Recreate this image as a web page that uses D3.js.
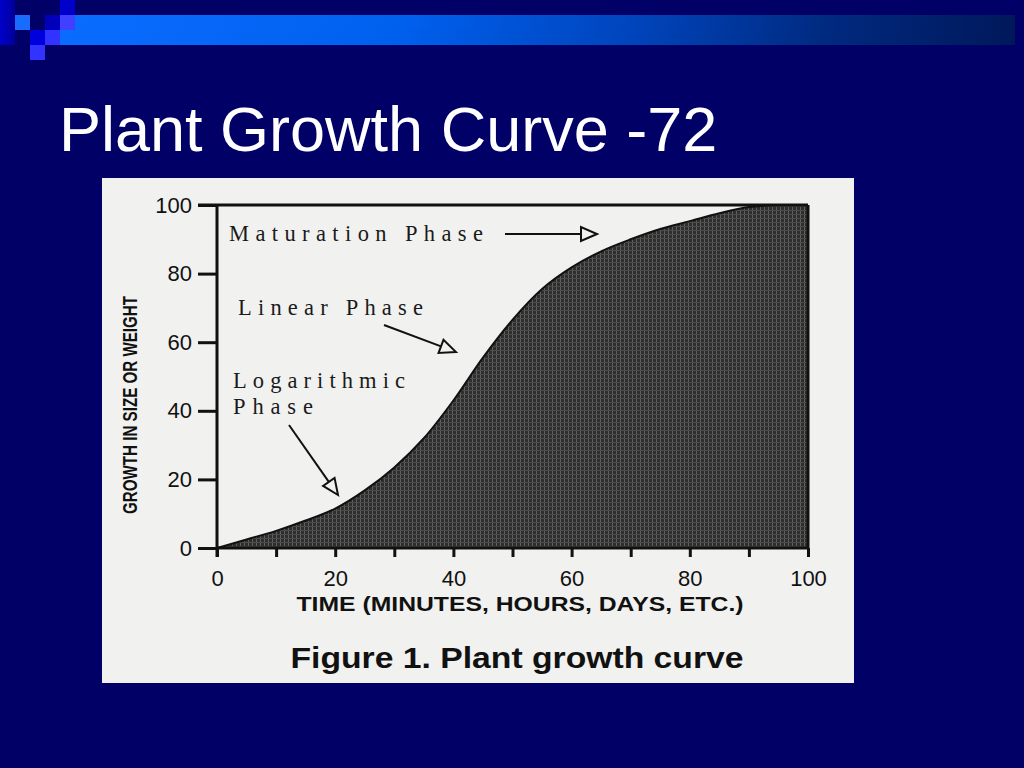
<!DOCTYPE html>
<html><head><meta charset="utf-8">
<script src="https://cdn.jsdelivr.net/npm/d3@7"></script>
<style>html,body{margin:0;padding:0;background:#000066;}svg{display:block;}</style>
</head><body>
<script>
// ---- data ----
const timeValues   = [0, 5, 10, 15, 20, 25, 30, 35, 40, 45, 50, 55, 60, 65, 70, 75, 80, 85, 90, 95, 100];
const growthValues = [0, 2.5, 5, 8, 11.5, 16.8, 23.5, 32, 43, 55.5, 66.5, 75.5, 81.8, 86.5, 90, 93, 95.3, 97.6, 99.4, 100, 100];
const xTickValues = [0, 10, 20, 30, 40, 50, 60, 70, 80, 90, 100];
const xTickLabels = ["0", "20", "40", "60", "80", "100"];
const yTickValues = [0, 20, 40, 60, 80, 100];
const yTickLabels = ["0", "20", "40", "60", "80", "100"];
const titleText = "Plant Growth Curve -72";
const xTitle = "TIME (MINUTES, HOURS, DAYS, ETC.)";
const yTitle = "GROWTH IN SIZE OR WEIGHT";
const captionText = "Figure 1. Plant growth curve";
const phaseLabels = ["Maturation Phase", "Linear Phase", "Logarithmic", "Phase"];

const W = 1024, H = 768;
const svg = d3.select("body").append("svg").attr("width", W).attr("height", H);
const defs = svg.append("defs");

// background
svg.append("rect").attr("width", W).attr("height", H).attr("fill", "#000066");

// decorative top bar
const grad = defs.append("linearGradient").attr("id", "barGrad").attr("x1", "0").attr("x2", "1");
[[0, "#0a6cff"], [0.35, "#0060ee"], [0.6, "#0044bb"], [0.8, "#002a80"], [1, "#00185a"]]
  .forEach(([o, c]) => grad.append("stop").attr("offset", o).attr("stop-color", c));
const colGrad = defs.append("linearGradient").attr("id", "colGrad").attr("x1", "0").attr("x2", "1");
colGrad.append("stop").attr("offset", 0).attr("stop-color", "#0000cc");
colGrad.append("stop").attr("offset", 1).attr("stop-color", "#00009a");
svg.append("rect").attr("x", 75).attr("y", 15).attr("width", 940).attr("height", 15).attr("fill", "url(#barGrad)");
svg.append("rect").attr("x", 60).attr("y", 30).attr("width", 955).attr("height", 15).attr("fill", "url(#barGrad)");
svg.append("rect").attr("x", 0).attr("y", 0).attr("width", 15).attr("height", 45).attr("fill", "url(#colGrad)");
const squares = [
  [15, 15, "#1a6cff"], [30, 30, "#0000dd"], [30, 45, "#3333ff"],
  [45, 15, "#0000bb"], [45, 30, "#3333ff"], [60, 0, "#0000cc"], [60, 15, "#4040ff"]
];
squares.forEach(([x, y, c]) => svg.append("rect").attr("x", x).attr("y", y).attr("width", 15).attr("height", 15).attr("fill", c));

// title
svg.append("text").attr("x", 59).attr("y", 151).attr("fill", "#ffffff")
  .attr("font-family", "Liberation Sans, Arial, sans-serif").attr("font-size", 63)
  .text(titleText);

// panel
svg.append("rect").attr("x", 102).attr("y", 178).attr("width", 752).attr("height", 505).attr("fill", "#f1f1f0");

// texture pattern
const pat = defs.append("pattern").attr("id", "tex").attr("patternUnits", "userSpaceOnUse").attr("width", 4).attr("height", 4);
pat.append("rect").attr("width", 4).attr("height", 4).attr("fill", "#2e2e2e");
pat.append("rect").attr("x", 0).attr("y", 0).attr("width", 1).attr("height", 4).attr("fill", "#606060");
pat.append("rect").attr("x", 0).attr("y", 2).attr("width", 4).attr("height", 1).attr("fill", "#4c4c4c");

// scales
const x = d3.scaleLinear().domain([0, 100]).range([217, 808]);
const y = d3.scaleLinear().domain([0, 100]).range([548, 205]);
const data = timeValues.map((t, i) => ({t, g: growthValues[i]}));

defs.append("clipPath").attr("id", "plotClip").append("rect")
  .attr("x", x(0)).attr("y", y(100)).attr("width", x(100) - x(0)).attr("height", y(0) - y(100));

// area
const curve = d3.curveCatmullRom.alpha(0.5);
const area = d3.area().x(d => x(d.t)).y0(y(0)).y1(d => y(d.g)).curve(curve);
const line = d3.line().x(d => x(d.t)).y(d => y(d.g)).curve(curve);
const gp = svg.append("g").attr("clip-path", "url(#plotClip)");
gp.append("path").datum(data).attr("d", area).attr("fill", "url(#tex)");
gp.append("path").datum(data).attr("d", line).attr("fill", "none").attr("stroke", "#111").attr("stroke-width", 2);

// frame lines
const ink = "#111";
svg.append("line").attr("x1", x(0) - 19).attr("x2", x(100)).attr("y1", y(100)).attr("y2", y(100)).attr("stroke", ink).attr("stroke-width", 3);
svg.append("line").attr("x1", x(100)).attr("x2", x(100)).attr("y1", y(100)).attr("y2", y(0)).attr("stroke", ink).attr("stroke-width", 3);

// axes
const numFont = "Liberation Sans, Arial, sans-serif";
const yAxis = d3.axisLeft(y).tickValues(yTickValues).tickSize(19).tickPadding(5)
  .tickFormat((d, i) => yTickLabels[i]);
const gy = svg.append("g").attr("transform", `translate(${x(0)},0)`).call(yAxis);
gy.select(".domain").attr("stroke", ink).attr("stroke-width", 3).attr("d", `M0,${y(100)}V${y(0) + 9}`);
gy.selectAll(".tick line").attr("stroke", ink).attr("stroke-width", 3);
gy.selectAll(".tick text").attr("fill", ink).attr("font-family", numFont).attr("font-size", 22).attr("dx", "-1");

const xAxis = d3.axisBottom(x).tickValues(xTickValues).tickSize(9).tickPadding(13)
  .tickFormat(d => (d % 20 === 0 ? xTickLabels[d / 20] : ""));
const gx = svg.append("g").attr("transform", `translate(0,${y(0)})`).call(xAxis);
gx.select(".domain").attr("stroke", ink).attr("stroke-width", 3).attr("d", `M${x(0)},0H${x(100)}`);
gx.selectAll(".tick line").attr("stroke", ink).attr("stroke-width", 3);
gx.selectAll(".tick text").attr("fill", ink).attr("font-family", numFont).attr("font-size", 22);

// axis titles
svg.append("text").attr("transform", "translate(137,405) rotate(-90)")
  .attr("text-anchor", "middle").attr("fill", ink)
  .attr("font-family", "Liberation Sans Narrow, Arial Narrow, Liberation Sans, sans-serif")
  .attr("font-weight", "bold").attr("font-size", 20)
  .attr("textLength", 218).attr("lengthAdjust", "spacingAndGlyphs").text(yTitle);
svg.append("text").attr("x", 520).attr("y", 611).attr("text-anchor", "middle").attr("fill", ink)
  .attr("font-family", "Liberation Sans Narrow, Arial Narrow, Liberation Sans, sans-serif")
  .attr("font-weight", "bold").attr("font-size", 21)
  .attr("textLength", 447).attr("lengthAdjust", "spacingAndGlyphs").text(xTitle);
svg.append("text").attr("x", 517).attr("y", 668).attr("text-anchor", "middle").attr("fill", ink)
  .attr("font-family", "Liberation Sans, Arial, sans-serif")
  .attr("font-weight", "bold").attr("font-size", 29)
  .attr("textLength", 453).attr("lengthAdjust", "spacingAndGlyphs").text(captionText);

// annotations
const serif = "Liberation Serif, DejaVu Serif, serif";
const ann = [
  [phaseLabels[0], 229, 241, 254],
  [phaseLabels[1], 238, 315, 185],
  [phaseLabels[2], 233, 388, 172],
  [phaseLabels[3], 233, 414, 80]
];
ann.forEach(([t, ax, ay, len]) => {
  svg.append("text").attr("x", ax).attr("y", ay).attr("fill", "#1a1a1a")
    .attr("font-family", serif).attr("font-size", 22.5)
    .attr("textLength", len).attr("lengthAdjust", "spacing").text(t);
});

function arrow(x1, y1, x2, y2) {
  const dx = x2 - x1, dy = y2 - y1, L = Math.hypot(dx, dy);
  const ux = dx / L, uy = dy / L, head = 16, half = 7;
  const bx = x2 - ux * head, by = y2 - uy * head;
  svg.append("line").attr("x1", x1).attr("y1", y1).attr("x2", bx).attr("y2", by)
    .attr("stroke", "#111").attr("stroke-width", 2);
  const pts = [[x2, y2], [bx - uy * half, by + ux * half], [bx + uy * half, by - ux * half]];
  svg.append("polygon").attr("points", pts.map(p => p.join(",")).join(" "))
    .attr("fill", "#f1f1f0").attr("stroke", "#111").attr("stroke-width", 2).attr("stroke-linejoin", "miter");
}
arrow(505, 234, 597, 234);
arrow(384, 325, 456, 352);
arrow(289, 425, 338, 495);
</script>
</body></html>
